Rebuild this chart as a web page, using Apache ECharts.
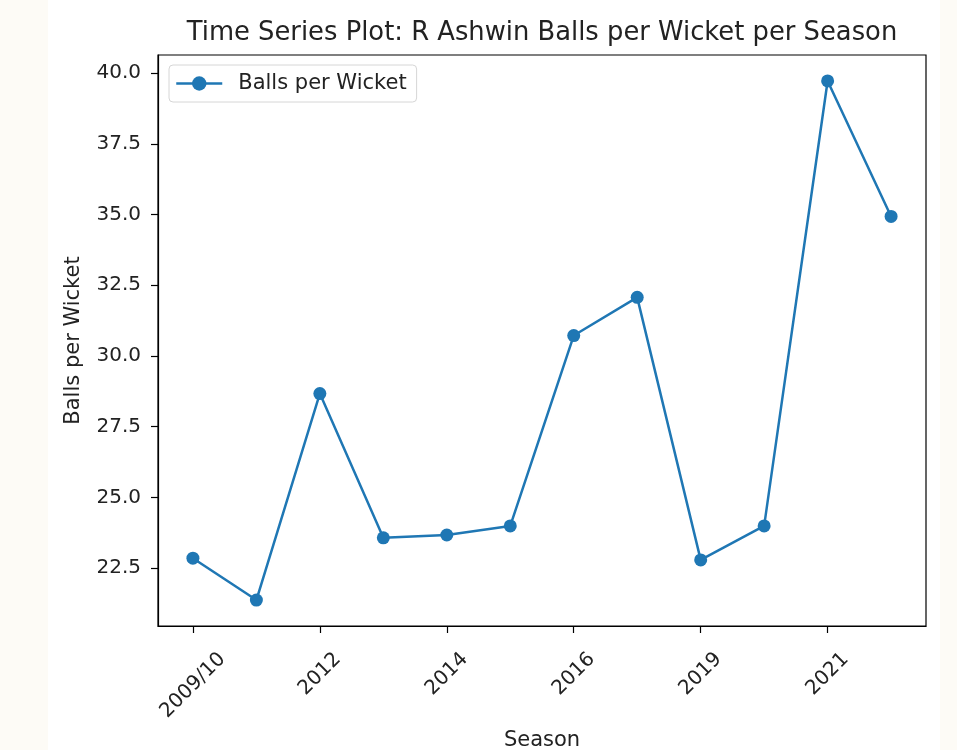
<!DOCTYPE html>
<html>
<head>
<meta charset="utf-8">
<script src="https://cdn.jsdelivr.net/npm/echarts@6/dist/echarts.min.js"></script>
<style>
  html, body { margin: 0; padding: 0; background: #fdfbf6; }
  #chart { position: absolute; left: 48px; top: 0; width: 892px; height: 750px; background: #ffffff; }
</style>
</head>
<body>
<div id="chart"></div>
<script>
// Seasons (x categories) and balls per wicket in each season
const seasons = ['2009/10', '2011', '2012', '2013', '2014', '2015', '2016', '2018', '2019', '2020', '2021', '2022'];
const ballsPerWicket = [22.85, 21.37, 28.67, 23.57, 23.67, 23.99, 30.72, 32.07, 22.79, 23.99, 39.72, 34.93];
// Labelled x positions (every other season) and y tick values
const xTickIdx = [0, 2, 4, 6, 8, 10];
const yTicks = [22.5, 25.0, 27.5, 30.0, 32.5, 35.0, 37.5, 40.0];

const FONT = 'DejaVu Sans';
const TICK_SIZE = 20;
const BLUE = '#1f77b4';

// Width of each rotated tick label, used to centre it under its tick
const ctx = document.createElement('canvas').getContext('2d');
ctx.font = TICK_SIZE + 'px "' + FONT + '"';
const rich = {};
xTickIdx.forEach(function (i) {
  const w = ctx.measureText(seasons[i]).width;
  rich['c' + i] = {
    fontFamily: FONT, fontSize: TICK_SIZE, color: '#222',
    padding: [w / 2, w / 2, 0, 0]
  };
});

const n = seasons.length;
const pad = (n - 1) * 0.05;
const yMin = Math.min.apply(null, ballsPerWicket);
const yMax = Math.max.apply(null, ballsPerWicket);
const yPad = (yMax - yMin) * 0.05;

const chart = echarts.init(document.getElementById('chart'), null, { renderer: 'canvas' });
chart.setOption({
  animation: false,
  backgroundColor: '#ffffff',
  title: {
    text: 'Time Series Plot: R Ashwin Balls per Wicket per Season',
    left: 489, top: 15, textAlign: 'center',
    textStyle: { fontFamily: FONT, fontSize: 25.8, fontWeight: 'normal', color: '#222' }
  },
  legend: {
    left: 121, top: 65,
    padding: [8, 10, 8, 6],
    borderColor: '#d6d6d6', borderWidth: 1, borderRadius: 4,
    backgroundColor: 'rgba(255,255,255,0.8)',
    itemWidth: 46, itemHeight: 18,
    lineStyle: { width: 2.5 },
    textStyle: { fontFamily: FONT, fontSize: 21, color: '#222', padding: [0, 0, 0, 11] },
    data: ['Balls per Wicket']
  },
  grid: {
    left: 110, top: 55, width: 768, height: 571,
    outerBoundsMode: 'none', containLabel: false,
    show: true, borderColor: '#000', borderWidth: 1.2, backgroundColor: 'transparent'
  },
  xAxis: {
    type: 'value',
    min: -pad, max: n - 1 + pad,
    name: 'Season', nameLocation: 'middle', nameGap: 104,
    nameTextStyle: { fontFamily: FONT, fontSize: 21, color: '#222' },
    splitLine: { show: false },
    axisLine: { show: true, onZero: false, lineStyle: { color: '#000', width: 1.2 } },
    axisTick: { show: true, inside: false, length: 7, customValues: xTickIdx, lineStyle: { color: '#000', width: 1.2 } },
    axisLabel: {
      customValues: xTickIdx,
      rotate: 45, margin: 30, align: 'center', verticalAlign: 'middle',
      fontFamily: FONT, fontSize: TICK_SIZE, color: '#222',
      formatter: function (v) { const i = Math.round(v); return '{c' + i + '|' + seasons[i] + '}'; },
      rich: rich
    }
  },
  yAxis: {
    type: 'value',
    min: yMin - yPad, max: yMax + yPad,
    name: 'Balls per Wicket', nameLocation: 'middle', nameGap: 74, nameRotate: 90,
    nameTextStyle: { fontFamily: FONT, fontSize: 21, color: '#222' },
    splitLine: { show: false },
    axisLine: { show: true, onZero: false, lineStyle: { color: '#000', width: 1.2 } },
    axisTick: { show: true, inside: false, length: 7, customValues: yTicks, lineStyle: { color: '#000', width: 1.2 } },
    axisLabel: {
      customValues: yTicks, margin: 17,
      fontFamily: FONT, fontSize: TICK_SIZE, color: '#222',
      formatter: function (v) { return v.toFixed(1); }
    }
  },
  series: [{
    name: 'Balls per Wicket',
    type: 'line',
    data: ballsPerWicket.map(function (v, i) { return [i, v]; }),
    symbol: 'circle', symbolSize: 13,
    lineStyle: { color: BLUE, width: 2.5 },
    itemStyle: { color: BLUE },
    z: 3
  }]
});
</script>
</body>
</html>
